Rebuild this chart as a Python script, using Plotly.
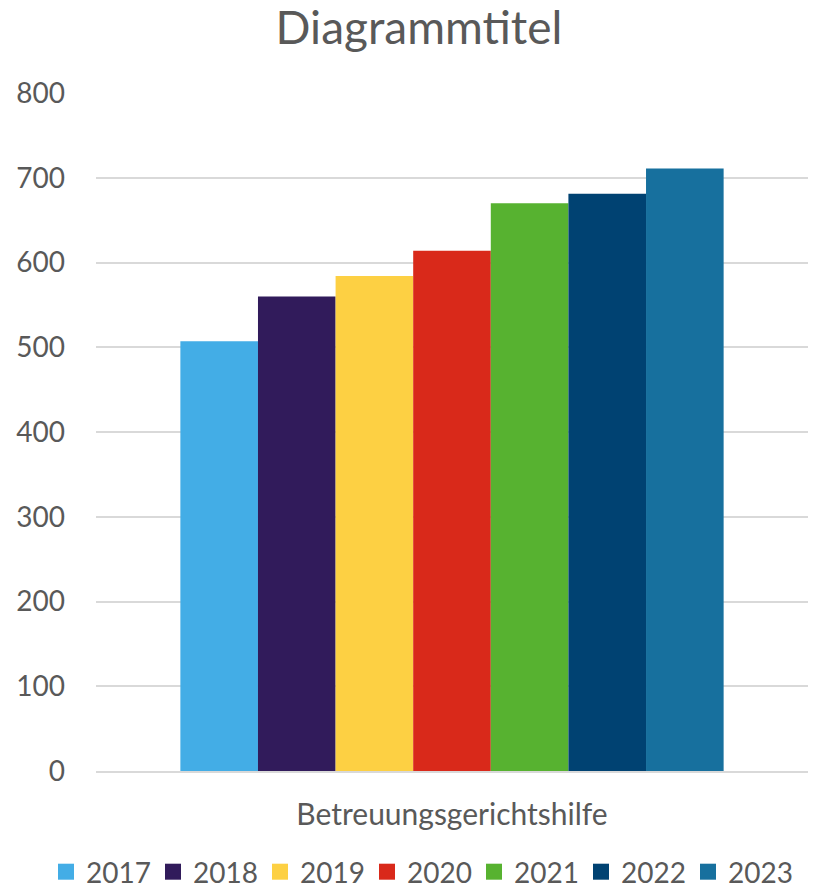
import plotly.graph_objects as go

category = ["Betreuungsgerichtshilfe"]
years = ["2017", "2018", "2019", "2020", "2021", "2022", "2023"]
values = [507, 560, 584, 614, 670, 681, 711]
colors = ["#43ADE6", "#311B5B", "#FDD043", "#D9291A", "#57B230", "#004272", "#17709E"]

fig = go.Figure()
for y, v, c in zip(years, values, colors):
    fig.add_trace(go.Bar(name=y, x=category, y=[v], legendgroup=y, showlegend=False,
                         marker=dict(color=c, line=dict(width=0))))
# legend entries with larger square swatches
for y, c in zip(years, colors):
    fig.add_trace(go.Scatter(name=y, x=[None], y=[None], mode="markers", legendgroup=y,
                             marker=dict(symbol="square", size=18, color=c), showlegend=True))

font_family = "Lato, Open Sans, sans-serif"
W, H = 814, 888
ml, mr, mt, mb = 96, 6, 93, 117
pw = W - ml - mr
ph = H - mt - mb

fig.update_layout(
    width=W, height=H,
    barmode="group", bargap=0.237, bargroupgap=0,
    paper_bgcolor="white", plot_bgcolor="white",
    margin=dict(l=ml, r=mr, t=mt, b=mb, autoexpand=False),
    title=dict(text="Diagrammtitel", x=419 / W, xref="container", xanchor="center",
               y=1 - 28 / H, yref="container", yanchor="middle",
               font=dict(family=font_family, size=46, color="#595959")),
    font=dict(family=font_family, color="#595959"),
    yaxis=dict(range=[0, 800], dtick=100, showgrid=True, gridcolor="#d9d9d9", gridwidth=1.5,
               zeroline=False, showline=False, ticks="", ticklabelstandoff=30,
               tickfont=dict(size=28, color="#595959")),
    xaxis=dict(showline=True, linecolor="#d9d9d9", linewidth=1.5, ticks="",
               ticklabelstandoff=16, showgrid=False,
               tickfont=dict(size=30, color="#595959")),
    legend=dict(orientation="h", x=(46 - ml) / pw, xanchor="left",
                y=-(874 - 27 - mt - ph) / ph, yanchor="top",
                font=dict(size=28, color="#595959"), itemwidth=30,
                entrywidth=62, entrywidthmode="pixels",
                traceorder="normal", bgcolor="rgba(0,0,0,0)"),
    showlegend=True,
)
fig.write_html("out.html", config={"displayModeBar": False},
               post_script="document.body.style.margin='0';")
